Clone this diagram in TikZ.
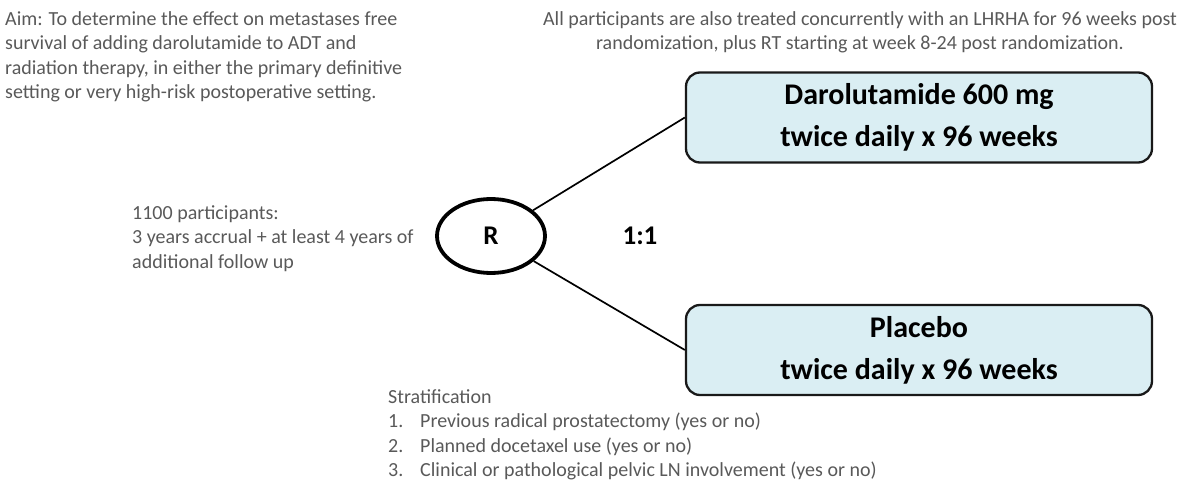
\documentclass[tikz,border=0pt]{standalone}
\usepackage{fontspec}
\setmainfont{Carlito}
\usetikzlibrary{shapes.geometric}
\definecolor{notegray}{HTML}{595959}
\definecolor{armfill}{HTML}{DAEEF3}
\begin{document}
\begin{tikzpicture}[x=1pt, y=1pt,
  note/.style={font=\fontsize{20}{24.5}\selectfont, text=notegray, inner sep=0pt},
  arm/.style={draw=black!90, line width=2.3pt, fill=armfill, rounded corners=14pt,
    minimum width=466pt, minimum height=90pt, align=center,
    font=\bfseries\fontsize{30}{38}\selectfont},
  rand/.style={ellipse, draw, line width=3.8pt, minimum width=108pt, minimum height=74pt,
    inner sep=0pt, font=\bfseries\fontsize{27}{30}\selectfont}]
  \useasboundingbox (0,0) rectangle (1200,-484);
  % texts round the design
  \node[note, anchor=north west, align=left] (aim) at (5,-11)
    {Aim: To determine the effect on metastases free\\survival of adding darolutamide to ADT and\\radiation therapy, in either the primary definitive\\setting or very high-risk postoperative setting.};
  \node[note, anchor=north, align=center] (concur) at (860,-11)
    {All participants are also treated concurrently with an LHRHA for 96 weeks post\\randomization, plus RT starting at week 8-24 post randomization.};
  \node[note, anchor=north west, align=left] (accrual) at (132,-205)
    {1100 participants:\\3 years accrual + at least 4 years of\\additional follow up};
  \node[note, anchor=north west, align=left] (strat) at (388,-389)
    {Stratification\\\makebox[32pt][l]{1.}Previous radical prostatectomy (yes or no)\\\makebox[32pt][l]{2.}Planned docetaxel use (yes or no)\\\makebox[32pt][l]{3.}Clinical or pathological pelvic LN involvement (yes or no)};
  % randomisation and arms
  \node[rand] (R) at (491,-236) {R};
  \node[font=\bfseries\fontsize{27}{30}\selectfont, inner sep=0pt] (ratio) at (640,-236) {1:1};
  \node[arm] (daro) at (919,-117.5) {Darolutamide 600 mg\\[4pt]twice daily x 96 weeks};
  \node[arm] (plac) at (919,-350) {Placebo\\[4pt]twice daily x 96 weeks};
  \draw[line width=1.7pt] (R) -- (daro.west);
  \draw[line width=1.7pt] (R) -- (plac.west);
\end{tikzpicture}
\end{document}
